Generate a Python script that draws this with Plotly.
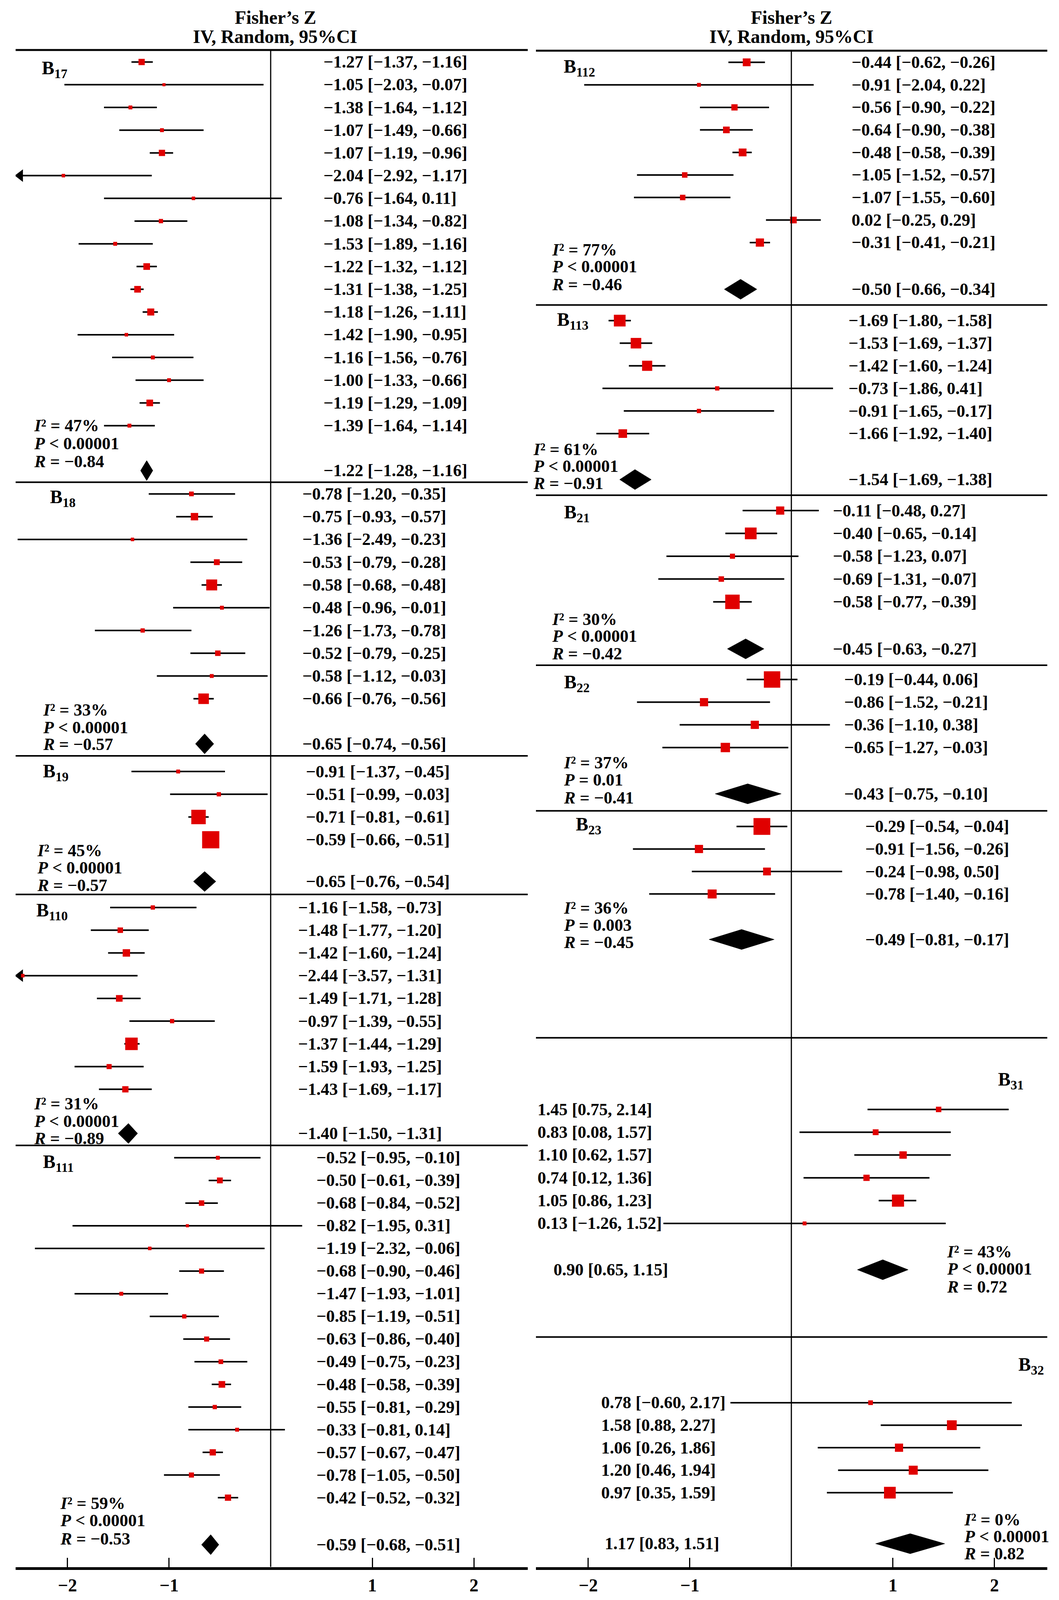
import math
import plotly.graph_objects as go

W, H = 2711, 4801
FONT = "Liberation Serif, Times New Roman, serif"
RED = "#e00000"

# ---------------- data: Fisher's Z with 95% CI, box weight (%) ----------------
b17_est = [-1.27, -1.05, -1.38, -1.07, -1.07, -2.04, -0.76, -1.08, -1.53, -1.22, -1.31, -1.18, -1.42, -1.16, -1.00, -1.19, -1.39]
b17_lo = [-1.37, -2.03, -1.64, -1.49, -1.19, -2.92, -1.64, -1.34, -1.89, -1.32, -1.38, -1.26, -1.90, -1.56, -1.33, -1.29, -1.64]
b17_hi = [-1.16, -0.07, -1.12, -0.66, -0.96, -1.17, 0.11, -0.82, -1.16, -1.12, -1.25, -1.11, -0.95, -0.76, -0.66, -1.09, -1.14]
b17_w = [8.5, 2.1, 3.3, 3.3, 8.5, 2.7, 2.7, 4.0, 3.3, 9.6, 9.6, 10.7, 2.7, 3.3, 3.3, 9.6, 3.3]
b17_pool = [-1.22, -1.28, -1.16]

b18_est = [-0.78, -0.75, -1.36, -0.53, -0.58, -0.48, -1.26, -0.52, -0.58, -0.66]
b18_lo = [-1.20, -0.93, -2.49, -0.79, -0.68, -0.96, -1.73, -0.79, -1.12, -0.76]
b18_hi = [-0.35, -0.57, -0.23, -0.28, -0.48, -0.01, -0.78, -0.25, -0.03, -0.56]
b18_w = [4.8, 11.9, 2.7, 7.4, 25.9, 3.3, 4.0, 6.5, 3.3, 24.1]
b18_pool = [-0.65, -0.74, -0.56]

b19_est = [-0.91, -0.51, -0.71, -0.59]
b19_lo = [-1.37, -0.99, -0.81, -0.66]
b19_hi = [-0.45, -0.03, -0.61, -0.51]
b19_w = [3.3, 4.0, 45.3, 64.0]
b19_pool = [-0.65, -0.76, -0.54]

b110_est = [-1.16, -1.48, -1.42, -2.44, -1.49, -0.97, -1.37, -1.59, -1.43]
b110_lo = [-1.58, -1.77, -1.60, -3.57, -1.71, -1.39, -1.44, -1.93, -1.69]
b110_hi = [-0.73, -1.20, -1.24, -1.31, -1.28, -0.55, -1.29, -1.25, -1.17]
b110_w = [4.0, 6.5, 11.9, 2.7, 9.6, 4.0, 33.9, 5.6, 8.5]
b110_pool = [-1.40, -1.50, -1.31]

b111_est = [-0.52, -0.50, -0.68, -0.82, -1.19, -0.68, -1.47, -0.85, -0.63, -0.49, -0.48, -0.55, -0.33, -0.57, -0.78, -0.42]
b111_lo = [-0.95, -0.61, -0.84, -1.95, -2.32, -0.90, -1.93, -1.19, -0.86, -0.75, -0.58, -0.81, -0.81, -0.67, -1.05, -0.52]
b111_hi = [-0.10, -0.39, -0.52, 0.31, -0.06, -0.46, -1.01, -0.51, -0.40, -0.23, -0.39, -0.29, 0.14, -0.47, -0.50, -0.32]
b111_w = [3.3, 7.4, 6.5, 2.1, 2.7, 5.6, 3.3, 4.0, 5.6, 4.8, 9.6, 4.0, 3.3, 8.5, 5.6, 8.5]
b111_pool = [-0.59, -0.68, -0.51]

b112_est = [-0.44, -0.91, -0.56, -0.64, -0.48, -1.05, -1.07, 0.02, -0.31]
b112_lo = [-0.62, -2.04, -0.90, -0.90, -0.58, -1.52, -1.55, -0.25, -0.41]
b112_hi = [-0.26, 0.22, -0.22, -0.38, -0.39, -0.57, -0.60, 0.29, -0.21]
b112_w = [13.2, 3.3, 8.5, 9.6, 13.2, 6.5, 6.5, 9.6, 14.6]
b112_pool = [-0.50, -0.66, -0.34]

b113_est = [-1.69, -1.53, -1.42, -0.73, -0.91, -1.66]
b113_lo = [-1.80, -1.69, -1.60, -1.86, -1.65, -1.92]
b113_hi = [-1.58, -1.37, -1.24, 0.41, -0.17, -1.40]
b113_w = [29.8, 24.1, 22.3, 4.0, 4.0, 16.0]
b113_pool = [-1.54, -1.69, -1.38]

b21_est = [-0.11, -0.40, -0.58, -0.69, -0.58]
b21_lo = [-0.48, -0.65, -1.23, -1.31, -0.77]
b21_hi = [0.27, -0.14, 0.07, -0.07, -0.39]
b21_w = [14.6, 29.8, 5.6, 6.5, 45.3]
b21_pool = [-0.45, -0.63, -0.27]

b22_est = [-0.19, -0.86, -0.36, -0.65]
b22_lo = [-0.44, -1.52, -1.10, -1.27]
b22_hi = [0.06, -0.21, 0.38, -0.03]
b22_w = [58.3, 14.6, 14.6, 19.0]
b22_pool = [-0.43, -0.75, -0.10]

b23_est = [-0.29, -0.91, -0.24, -0.78]
b23_lo = [-0.54, -1.56, -0.98, -1.40]
b23_hi = [-0.04, -0.26, 0.50, -0.16]
b23_w = [61.1, 14.6, 13.2, 17.5]
b23_pool = [-0.49, -0.81, -0.17]

b31_est = [1.45, 0.83, 1.10, 0.74, 1.05, 0.13]
b31_lo = [0.75, 0.08, 0.62, 0.12, 0.86, -1.26]
b31_hi = [2.14, 1.57, 1.57, 1.36, 1.23, 1.52]
b31_w = [6.5, 7.4, 11.9, 8.5, 31.8, 3.3]
b31_pool = [0.90, 0.65, 1.15]

b32_est = [0.78, 1.58, 1.06, 1.20, 0.97]
b32_lo = [-0.60, 0.88, 0.26, 0.46, 0.35]
b32_hi = [2.17, 2.27, 1.86, 1.94, 1.59]
b32_w = [4.8, 20.7, 14.6, 17.5, 29.8]
b32_pool = [1.17, 0.83, 1.51]

# heterogeneity / test / correlation per group
i2_vals = ["47%", "33%", "45%", "31%", "59%", "77%", "61%", "30%", "37%", "36%", "43%", "0%"]
p_vals = ["< 0.00001", "< 0.00001", "< 0.00001", "< 0.00001", "< 0.00001", "< 0.00001",
          "< 0.00001", "< 0.00001", "= 0.01", "= 0.003", "< 0.00001", "< 0.00001"]
r_vals = [-0.84, -0.57, -0.57, -0.89, -0.53, -0.46, -0.91, -0.42, -0.41, -0.45, 0.72, 0.82]

tick_vals = [-2, -1, 1, 2]

# ---------------- layout of the groups (pixel positions on the page) ----------------
groups = [
    dict(sub="17", ax="x", d=(b17_est, b17_lo, b17_hi, b17_w, b17_pool), y0=186, dy=68.2, ys=1412,
         yst=(1277, 1331, 1385), xst=85, lab=(105, 208), xt=826, xts=826, yl=1447),
    dict(sub="18", ax="x", d=(b18_est, b18_lo, b18_hi, b18_w, b18_pool), y0=1482, dy=68.3, ys=2232,
         yst=(2130, 2183, 2234), xst=108, lab=(126, 1495), xt=772, xts=772, yl=2268),
    dict(sub="19", ax="x", d=(b19_est, b19_lo, b19_hi, b19_w, b19_pool), y0=2315, dy=68.3, ys=2645,
         yst=(2552, 2604, 2657), xst=93, lab=(108, 2317), xt=781, xts=781, yl=2684),
    dict(sub="110", ax="x", d=(b110_est, b110_lo, b110_hi, b110_w, b110_pool), y0=2723, dy=68.2, ys=3401,
         yst=(3312, 3365, 3416), xst=85, lab=(91, 2734), xt=761, xts=761, yl=3437),
    dict(sub="111", ax="x", d=(b111_est, b111_lo, b111_hi, b111_w, b111_pool), y0=3474, dy=68.0, ys=4635,
         yst=(4511, 4563, 4618), xst=152, lab=(108, 3489), xt=808, xts=808, yl=None),
    dict(sub="112", ax="x2", d=(b112_est, b112_lo, b112_hi, b112_w, b112_pool), y0=187, dy=67.6, ys=868,
         yst=(750, 800, 854), xst=1411, lab=(1441, 203), xt=2178, xts=2178, yl=915),
    dict(sub="113", ax="x2", d=(b113_est, b113_lo, b113_hi, b113_w, b113_pool), y0=962, dy=67.8, ys=1439,
         yst=(1348, 1399, 1451), xst=1363, lab=(1424, 962), xt=2170, xts=2170, yl=1486),
    dict(sub="21", ax="x2", d=(b21_est, b21_lo, b21_hi, b21_w, b21_pool), y0=1532, dy=68.5, ys=1947,
         yst=(1858, 1909, 1961), xst=1411, lab=(1442, 1540), xt=2130, xts=2130, yl=1996),
    dict(sub="22", ax="x2", d=(b22_est, b22_lo, b22_hi, b22_w, b22_pool), y0=2039, dy=68.0, ys=2382,
         yst=(2288, 2340, 2394), xst=1441, lab=(1442, 2050), xt=2159, xts=2159, yl=2433),
    dict(sub="23", ax="x2", d=(b23_est, b23_lo, b23_hi, b23_w, b23_pool), y0=2480, dy=67.5, ys=2819,
         yst=(2724, 2776, 2828), xst=1441, lab=(1472, 2477), xt=2213, xts=2213, yl=3114),
    dict(sub="31", ax="x2", d=(b31_est, b31_lo, b31_hi, b31_w, b31_pool), y0=3329, dy=68.4, ys=3810,
         yst=(3756, 3808, 3861), xst=2422, lab=(2553, 3242), xt=1374, xts=1415, yl=4012),
    dict(sub="32", ax="x2", d=(b32_est, b32_lo, b32_hi, b32_w, b32_pool), y0=4209, dy=67.5, ys=4632,
         yst=(4560, 4611, 4662), xst=2466, lab=(2605, 4098), xt=1537, xts=1546, yl=None),
]

XRANGE = {"x": [-2.51, 2.53], "x2": [-2.515, 2.52]}
PANEL = {"x": (40, 1351), "x2": (1372, 2681)}
TOP = {"x": 150, "x2": 152}
BOTTOM = 4702


def fmt(v):
    return f"{v:.2f}".replace("-", "\u2212")


def ci_text(e, l, h):
    return f"{fmt(e)} [{fmt(l)}, {fmt(h)}]"


def ann(text, xpx, ypx, size=44, anchor="left"):
    return dict(text=f"<b>{text}</b>", x=xpx / W, xref="paper", y=ypx, yref="y",
                xanchor=anchor, yanchor="middle", showarrow=False,
                font=dict(family=FONT, size=size, color="black"))


fig = go.Figure()
annotations = []
shapes = []

for k, g in enumerate(groups):
    est, lo, hi, w, pool = g["d"]
    ax = g["ax"]
    xmin = XRANGE[ax][0]
    ys = [g["y0"] + i * g["dy"] for i in range(len(est))]

    # CI lines
    lx, ly = [], []
    for l, h, y in zip(lo, hi, ys):
        lx += [max(l, xmin), h, None]
        ly += [y, y, None]
    fig.add_trace(go.Scatter(x=lx, y=ly, xaxis=ax, yaxis="y", mode="lines",
                             line=dict(color="black", width=4), hoverinfo="skip", showlegend=False))

    # arrows for intervals running off the left edge
    ax_x = [xmin + 0.045 for l in lo if l < xmin]
    ax_y = [y for l, y in zip(lo, ys) if l < xmin]
    if ax_x:
        fig.add_trace(go.Scatter(x=ax_x, y=ax_y, xaxis=ax, yaxis="y", mode="markers",
                                 marker=dict(symbol="triangle-left", size=28, color="black"),
                                 hoverinfo="skip", showlegend=False))

    # study boxes (side ~ sqrt of weight)
    fig.add_trace(go.Scatter(x=est, y=ys, xaxis=ax, yaxis="y", mode="markers",
                             marker=dict(symbol="square", color=RED, opacity=1, line=dict(width=0),
                                         size=[5.5 * math.sqrt(v) for v in w]),
                             hoverinfo="skip", showlegend=False))

    # pooled diamond
    pe, pl, ph = pool
    yc = g["ys"]
    fig.add_trace(go.Scatter(x=[pl, pe, ph, pe, pl], y=[yc, yc - 30, yc, yc + 30, yc],
                             xaxis=ax, yaxis="y", mode="lines", fill="toself",
                             fillcolor="black", line=dict(color="black", width=1),
                             hoverinfo="skip", showlegend=False))

    # texts
    for e, l, h, y in zip(est, lo, hi, ys):
        annotations.append(ann(ci_text(e, l, h), g["xt"], y))
    annotations.append(ann(ci_text(pe, pl, ph), g["xts"], yc))
    annotations.append(ann(f"B<sub>{g['sub']}</sub>", g["lab"][0], g["lab"][1], size=48))
    y1, y2, y3 = g["yst"]
    annotations.append(ann(f"<i>I</i>\u00b2 = {i2_vals[k]}", g["xst"], y1))
    annotations.append(ann(f"<i>P</i> {p_vals[k]}", g["xst"], y2))
    annotations.append(ann(f"<i>R</i> = {fmt(r_vals[k])}", g["xst"], y3))

    # separator line below the group
    if g["yl"] is not None:
        x0, x1 = PANEL[ax]
        shapes.append(dict(type="line", xref="paper", yref="y", x0=x0 / W, x1=x1 / W,
                           y0=g["yl"], y1=g["yl"], line=dict(color="black", width=4)))

# top rules, zero lines and headers
for ax in ("x", "x2"):
    x0, x1 = PANEL[ax]
    shapes.append(dict(type="line", xref="paper", yref="y", x0=x0 / W, x1=x1 / W,
                       y0=TOP[ax], y1=TOP[ax], line=dict(color="black", width=5)))
    shapes.append(dict(type="line", xref=ax, yref="y", x0=0, x1=0, y0=TOP[ax], y1=BOTTOM,
                       line=dict(color="black", width=3)))

for cx in (705, 2026):
    annotations.append(ann("Fisher\u2019s Z", cx, 52, size=48, anchor="center"))
    annotations.append(ann("IV, Random, 95%CI", cx, 110, size=48, anchor="center"))

axis_style = dict(showgrid=False, zeroline=False, showline=True, linecolor="black", linewidth=7,
                  ticks="inside", ticklen=24, tickwidth=3, tickcolor="black",
                  tickvals=tick_vals, ticktext=[fmt(v).replace(".00", "") for v in tick_vals],
                  tickfont=dict(family=FONT, size=46, color="black", weight="bold"),
                  ticklabelstandoff=0, anchor="y", fixedrange=True)

# the figure fills the browser window, so nothing is lost if the view is shorter
fig.update_layout(
    autosize=True, margin=dict(l=0, r=0, t=0, b=0),
    paper_bgcolor="white", plot_bgcolor="white",
    xaxis=dict(domain=[40 / W, 1351 / W], range=XRANGE["x"], **axis_style),
    xaxis2=dict(domain=[1372 / W, 2681 / W], range=XRANGE["x2"], **axis_style),
    yaxis=dict(domain=[(H - BOTTOM) / H, 1], range=[BOTTOM, 0], visible=False, fixedrange=True),
    annotations=annotations, shapes=shapes,
)

fit_js = ("document.documentElement.style.margin='0';document.body.style.margin='0';"
          "document.body.style.overflow='hidden';"
          "var gd=document.getElementById('{plot_id}');"
          "gd.style.width='100vw';gd.style.height='100vh';"
          "Plotly.Plots.resize(gd);")

fig.write_html("out.html", config={"responsive": True, "displayModeBar": False},
               default_width="100vw", default_height="100vh", post_script=fit_js)
